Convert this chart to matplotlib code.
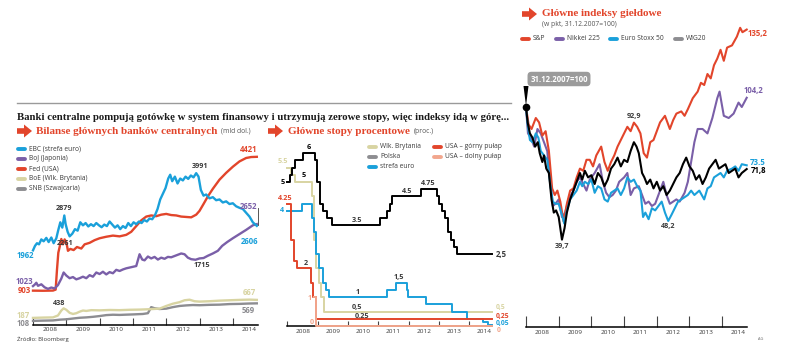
import matplotlib
matplotlib.use('Agg')
import matplotlib.pyplot as plt
from matplotlib.patches import Polygon

W, H = 788, 360
SANS = ['Open Sans', 'DejaVu Sans']
SERIF = ['Liberation Serif', 'DejaVu Serif']

RED = '#e2452b'
BLUE = '#1aa0da'
PURPLE = '#7a5fa8'
BEIGE = '#d8d4a2'
GRAY = '#8d8d91'
SALMON = '#f2a68d'
DARK = '#3a3a3a'

years = [2008, 2009, 2010, 2011, 2012, 2013, 2014]
year_labels = [str(y) for y in years]

# --- Bilanse banków centralnych (mld dol.) ---
ebc = [(2008.00, 1962), (2008.06, 2080), (2008.12, 2150), (2008.18, 2120), (2008.25, 2250),
       (2008.32, 2200), (2008.40, 2290), (2008.47, 2180), (2008.55, 2300), (2008.62, 2150),
       (2008.70, 2280), (2008.76, 2500), (2008.82, 2700), (2008.88, 2560), (2008.94, 2879),
       (2008.98, 2650), (2009.04, 2450), (2009.10, 2330), (2009.18, 2400), (2009.26, 2520),
       (2009.34, 2480), (2009.42, 2700), (2009.50, 2620), (2009.58, 2680), (2009.66, 2590),
       (2009.74, 2650), (2009.82, 2600), (2009.90, 2680), (2009.98, 2620), (2010.06, 2570),
       (2010.14, 2640), (2010.22, 2600), (2010.30, 2720), (2010.38, 2640), (2010.46, 2560),
       (2010.54, 2620), (2010.62, 2520), (2010.70, 2600), (2010.78, 2550), (2010.86, 2680),
       (2010.94, 2600), (2011.02, 2700), (2011.10, 2650), (2011.18, 2720), (2011.26, 2680),
       (2011.34, 2760), (2011.42, 2720), (2011.50, 2800), (2011.58, 2780), (2011.66, 2880),
       (2011.74, 3050), (2011.82, 3300), (2011.90, 3450), (2011.98, 3600), (2012.06, 3850),
       (2012.12, 3950), (2012.18, 3780), (2012.26, 3900), (2012.34, 3720), (2012.42, 3850),
       (2012.50, 3800), (2012.58, 3900), (2012.66, 3840), (2012.74, 3930), (2012.82, 3880),
       (2012.90, 3991), (2012.97, 3900), (2013.04, 3550), (2013.12, 3400), (2013.20, 3430),
       (2013.30, 3330), (2013.40, 3360), (2013.50, 3280), (2013.60, 3300), (2013.70, 3220),
       (2013.80, 3250), (2013.90, 3180), (2014.00, 3200), (2014.10, 3120), (2014.20, 3080),
       (2014.30, 3050), (2014.40, 2950), (2014.50, 2850), (2014.60, 2700), (2014.72, 2606)]
boj = [(2008.00, 1023), (2008.05, 1060), (2008.10, 1110), (2008.15, 1030), (2008.25, 1070),
       (2008.35, 990), (2008.45, 950), (2008.55, 985), (2008.65, 960), (2008.75, 1050),
       (2008.85, 1220), (2008.92, 1380), (2009.00, 1300), (2009.10, 1230), (2009.20, 1260),
       (2009.30, 1200), (2009.40, 1230), (2009.50, 1270), (2009.60, 1230), (2009.70, 1310),
       (2009.80, 1270), (2009.90, 1380), (2010.00, 1340), (2010.10, 1400), (2010.20, 1330),
       (2010.30, 1390), (2010.40, 1360), (2010.50, 1450), (2010.60, 1420), (2010.70, 1460),
       (2010.80, 1490), (2010.90, 1510), (2011.00, 1530), (2011.10, 1550), (2011.20, 1860),
       (2011.28, 1720), (2011.35, 1700), (2011.45, 1800), (2011.55, 1750), (2011.65, 1790),
       (2011.75, 1720), (2011.85, 1770), (2011.95, 1740), (2012.05, 1790), (2012.15, 1780),
       (2012.30, 1830), (2012.45, 1880), (2012.55, 1860), (2012.65, 1770), (2012.75, 1730),
       (2012.88, 1715), (2013.00, 1750), (2013.12, 1760), (2013.25, 1820), (2013.40, 1880),
       (2013.55, 1950), (2013.68, 2080), (2013.83, 2180), (2014.00, 2280), (2014.20, 2390),
       (2014.40, 2500), (2014.60, 2620), (2014.72, 2652)]
fed = [(2008.00, 903), (2008.30, 900), (2008.60, 905), (2008.68, 930), (2008.72, 1450),
       (2008.76, 1900), (2008.80, 2050), (2008.85, 2261), (2008.90, 2120), (2008.95, 2250),
       (2009.00, 2180), (2009.05, 1950), (2009.12, 2000), (2009.22, 1970), (2009.32, 2050),
       (2009.45, 2010), (2009.55, 2120), (2009.70, 2160), (2009.85, 2230), (2010.00, 2280),
       (2010.20, 2320), (2010.40, 2350), (2010.60, 2330), (2010.80, 2370), (2010.95, 2450),
       (2011.10, 2600), (2011.25, 2750), (2011.40, 2850), (2011.55, 2880), (2011.70, 2860),
       (2011.85, 2900), (2012.00, 2920), (2012.15, 2890), (2012.30, 2880), (2012.45, 2850),
       (2012.60, 2840), (2012.75, 2830), (2012.90, 2900), (2013.00, 3000), (2013.12, 3180),
       (2013.25, 3380), (2013.40, 3580), (2013.60, 3820), (2013.80, 4000), (2014.00, 4160),
       (2014.20, 4300), (2014.40, 4390), (2014.55, 4415), (2014.72, 4421)]
boe = [(2008.00, 187), (2008.30, 195), (2008.60, 200), (2008.75, 250), (2008.85, 380),
       (2008.92, 438), (2009.00, 400), (2009.10, 320), (2009.20, 290), (2009.30, 310),
       (2009.40, 350), (2009.50, 380), (2009.60, 370), (2009.75, 390), (2010.00, 385),
       (2010.30, 395), (2010.60, 390), (2010.90, 400), (2011.20, 405), (2011.50, 415),
       (2011.80, 430), (2012.00, 500), (2012.20, 560), (2012.40, 600), (2012.55, 650),
       (2012.70, 665), (2012.85, 625), (2013.00, 615), (2013.30, 625), (2013.60, 640),
       (2013.90, 650), (2014.20, 660), (2014.50, 667), (2014.72, 660)]
snb = [(2008.00, 108), (2008.30, 115), (2008.60, 120), (2008.80, 140), (2009.00, 150),
       (2009.20, 170), (2009.40, 190), (2009.60, 200), (2009.80, 215), (2010.00, 235),
       (2010.20, 260), (2010.40, 270), (2010.60, 265), (2010.80, 272), (2011.00, 278),
       (2011.30, 290), (2011.45, 310), (2011.55, 470), (2011.65, 440), (2011.80, 420),
       (2012.00, 430), (2012.20, 470), (2012.40, 500), (2012.60, 515), (2012.80, 525),
       (2013.00, 520), (2013.30, 530), (2013.60, 535), (2013.90, 550), (2014.20, 555),
       (2014.50, 565), (2014.72, 569)]
bank_names = ['EBC (strefa euro)', 'BoJ (Japonia)', 'Fed (USA)', 'BoE (Wlk. Brytania)', 'SNB (Szwajcaria)']

# --- Główne stopy procentowe (proc.), stopy od danej daty ---
uk_rate = [(2008.00, 5.5), (2008.12, 5.25), (2008.25, 5.0), (2008.80, 4.5), (2008.86, 3.0),
           (2008.95, 2.0), (2009.03, 1.5), (2009.12, 1.0), (2009.20, 0.5), (2014.75, 0.5)]
pl_rate = [(2008.00, 5.0), (2008.08, 5.25), (2008.16, 5.5), (2008.24, 5.75), (2008.50, 6.0),
           (2008.90, 5.75), (2008.97, 5.0), (2009.08, 4.25), (2009.18, 4.0), (2009.30, 3.75),
           (2009.48, 3.5), (2011.04, 3.75), (2011.30, 4.0), (2011.38, 4.25), (2011.45, 4.5),
           (2012.42, 4.75), (2012.92, 4.5), (2013.00, 4.25), (2013.10, 4.0), (2013.20, 3.75),
           (2013.30, 3.25), (2013.40, 3.0), (2013.50, 2.75), (2013.60, 2.5), (2014.75, 2.5)]
eu_rate = [(2008.00, 4.0), (2008.48, 4.25), (2008.80, 3.75), (2008.87, 3.25), (2008.93, 2.5),
           (2009.03, 2.0), (2009.18, 1.5), (2009.27, 1.25), (2009.38, 1.0), (2011.30, 1.25),
           (2011.57, 1.5), (2011.93, 1.25), (2011.98, 1.0), (2012.56, 0.75), (2013.42, 0.5),
           (2013.92, 0.25), (2014.45, 0.15), (2014.62, 0.05), (2014.75, 0.05)]
us_upper = [(2008.00, 4.25), (2008.10, 3.5), (2008.13, 3.0), (2008.20, 2.25), (2008.30, 2.0),
            (2008.78, 1.5), (2008.84, 1.0), (2008.95, 0.25), (2014.75, 0.25)]
us_lower = [(2008.86, 1.0), (2008.95, 0.0), (2014.75, 0.0)]
rate_names = ['Wlk. Brytania', 'Polska', 'strefa euro', 'USA – górny pułap', 'USA – dolny pułap']

# --- Główne indeksy giełdowe (31.12.2007 = 100) ---
sp = [(2008.00, 100), (2008.08, 92), (2008.17, 90), (2008.30, 95), (2008.40, 93), (2008.50, 87),
      (2008.60, 89), (2008.70, 80), (2008.80, 63), (2008.88, 60), (2008.96, 62), (2009.05, 57),
      (2009.15, 48), (2009.25, 56), (2009.35, 62), (2009.45, 63), (2009.55, 68), (2009.65, 72),
      (2009.75, 71), (2009.85, 76), (2009.95, 76), (2010.05, 73), (2010.15, 78), (2010.30, 82),
      (2010.40, 75), (2010.50, 71), (2010.60, 75), (2010.70, 78), (2010.80, 82), (2010.90, 85),
      (2011.00, 88), (2011.10, 91), (2011.20, 89), (2011.30, 92.9), (2011.40, 91), (2011.50, 88),
      (2011.60, 79), (2011.70, 77), (2011.80, 84), (2011.90, 85), (2012.00, 89), (2012.10, 93),
      (2012.25, 96), (2012.40, 90), (2012.50, 94), (2012.60, 97), (2012.75, 98), (2012.85, 96),
      (2012.95, 99), (2013.10, 104), (2013.25, 107), (2013.35, 111), (2013.45, 110), (2013.55, 115),
      (2013.65, 113), (2013.75, 119), (2013.85, 122), (2013.95, 126), (2014.05, 121), (2014.15, 127),
      (2014.30, 128), (2014.45, 132), (2014.55, 136), (2014.62, 134), (2014.75, 135.2)]
nikkei = [(2008.00, 100), (2008.06, 88), (2008.15, 86), (2008.25, 82), (2008.35, 90), (2008.45, 88),
          (2008.55, 84), (2008.65, 80), (2008.75, 65), (2008.82, 55), (2008.90, 56), (2009.00, 58),
          (2009.10, 50), (2009.20, 52), (2009.30, 58), (2009.45, 62), (2009.55, 66), (2009.65, 68),
          (2009.75, 65), (2009.85, 62), (2009.95, 67), (2010.10, 70), (2010.25, 74), (2010.35, 66),
          (2010.45, 61), (2010.55, 59), (2010.65, 60), (2010.75, 62), (2010.85, 66), (2011.00, 68),
          (2011.10, 70), (2011.20, 60), (2011.30, 63), (2011.45, 64), (2011.55, 60), (2011.65, 56),
          (2011.75, 57), (2011.85, 55), (2011.95, 56), (2012.10, 62), (2012.20, 66), (2012.30, 60),
          (2012.40, 56), (2012.50, 57), (2012.60, 58), (2012.70, 57), (2012.85, 61), (2012.95, 66),
          (2013.05, 75), (2013.15, 84), (2013.25, 90), (2013.40, 90), (2013.55, 88), (2013.70, 95),
          (2013.85, 104), (2013.92, 107), (2014.05, 96), (2014.20, 95), (2014.35, 97), (2014.50, 102),
          (2014.60, 100), (2014.75, 104.2)]
stoxx = [(2008.00, 100), (2008.05, 92), (2008.12, 85), (2008.20, 84), (2008.30, 88), (2008.38, 86),
         (2008.45, 80), (2008.55, 78), (2008.65, 76), (2008.75, 64), (2008.82, 57), (2008.90, 56),
         (2009.00, 56), (2009.08, 52), (2009.17, 47), (2009.25, 53), (2009.35, 58), (2009.45, 60),
         (2009.55, 62), (2009.65, 66), (2009.72, 64), (2009.80, 66), (2009.90, 65), (2010.00, 67),
         (2010.10, 61), (2010.20, 64), (2010.30, 63), (2010.40, 58), (2010.50, 57), (2010.60, 61),
         (2010.70, 62), (2010.80, 63), (2010.90, 60), (2011.00, 63), (2011.10, 68), (2011.20, 66),
         (2011.30, 67), (2011.40, 64), (2011.50, 62), (2011.58, 50), (2011.65, 52), (2011.75, 49),
         (2011.85, 54), (2011.95, 53), (2012.05, 55), (2012.15, 57), (2012.25, 52), (2012.35, 48.2),
         (2012.45, 51), (2012.55, 54), (2012.65, 57), (2012.75, 58), (2012.85, 59), (2012.95, 60),
         (2013.05, 62), (2013.15, 60), (2013.30, 62), (2013.45, 58), (2013.55, 63), (2013.65, 64),
         (2013.75, 68), (2013.85, 69), (2013.95, 70), (2014.05, 68), (2014.15, 71), (2014.30, 72),
         (2014.40, 73), (2014.50, 71), (2014.60, 74), (2014.75, 73.5)]
wig20 = [(2008.00, 100), (2008.05, 93), (2008.12, 88), (2008.20, 86), (2008.28, 82), (2008.36, 84),
         (2008.42, 79), (2008.50, 75), (2008.55, 78), (2008.62, 72), (2008.70, 70), (2008.78, 58),
         (2008.85, 52), (2008.92, 53), (2009.00, 50), (2009.10, 39.7), (2009.18, 45), (2009.25, 52),
         (2009.35, 58), (2009.45, 62), (2009.55, 66), (2009.65, 70), (2009.72, 67), (2009.80, 71),
         (2009.90, 68), (2010.00, 69), (2010.10, 65), (2010.20, 70), (2010.30, 68), (2010.40, 64),
         (2010.50, 67), (2010.60, 72), (2010.70, 74), (2010.80, 77), (2010.90, 73), (2011.00, 76),
         (2011.10, 75), (2011.20, 80), (2011.30, 84), (2011.38, 82), (2011.45, 79), (2011.55, 70),
         (2011.62, 68), (2011.70, 65), (2011.80, 67), (2011.90, 63), (2012.00, 66), (2012.10, 62),
         (2012.20, 64), (2012.30, 60), (2012.40, 62), (2012.50, 65), (2012.60, 68), (2012.70, 70),
         (2012.80, 74), (2012.90, 77), (2013.00, 73), (2013.10, 71), (2013.20, 67), (2013.30, 69),
         (2013.40, 65), (2013.50, 68), (2013.60, 72), (2013.70, 74), (2013.80, 76), (2013.90, 72),
         (2014.00, 73), (2014.10, 74), (2014.20, 70), (2014.30, 71), (2014.40, 72), (2014.50, 68),
         (2014.60, 70), (2014.75, 71.8)]
index_names = ['S&P', 'Nikkei 225', 'Euro Stoxx 50', 'WIG20']


def xy(series):
    return [p[0] for p in series], [p[1] for p in series]


fig = plt.figure(figsize=(W / 100, H / 100), dpi=100)
ov = fig.add_axes([0, 0, 1, 1])
ov.set_xlim(0, W)
ov.set_ylim(H, 0)
ov.axis('off')


def px_axes(x0, x1, y_top, y_bot):
    ax = fig.add_axes([x0 / W, 1 - y_bot / H, (x1 - x0) / W, (y_bot - y_top) / H])
    ax.patch.set_visible(False)
    for s in ['left', 'right', 'top']:
        ax.spines[s].set_visible(False)
    ax.spines['bottom'].set_linewidth(1.1)
    ax.yaxis.set_visible(False)
    ax.set_xlim(2008, 2014.75)
    return ax


def year_axis(ax, tick_len, pad):
    ax.set_xticks(years)
    ax.tick_params(axis='x', which='major', direction='in', length=tick_len, width=0.8,
                   color='#444444', labelbottom=False)
    ax.set_xticks([y + 0.5 for y in years], labels=year_labels, minor=True)
    ax.tick_params(axis='x', which='minor', length=0, labelsize=4.6, pad=pad, labelcolor=DARK)
    for lab in ax.get_xticklabels(minor=True):
        lab.set_family(SANS)


def arrow(x0, cy):
    pts = [(x0, cy - 2.8), (x0 + 7, cy - 2.8), (x0 + 7, cy - 6.5), (x0 + 15, cy),
           (x0 + 7, cy + 6.5), (x0 + 7, cy + 2.8), (x0, cy + 2.8)]
    ov.add_patch(Polygon(pts, closed=True, fc=RED, ec='none'))


def legend_item(x, y, color, text):
    ov.plot([x + 1.5, x + 8.5], [y, y], color=color, lw=2.8, solid_capstyle='round')
    ov.text(x + 12, y, text, fontsize=4.8, family=SANS, color=DARK, va='center', ha='left')


def label(ax, x, y, text, color, dx=0, dy=0, ha='center', size=5.2):
    ax.annotate(text, xy=(x, y), xytext=(dx * 0.72, dy * 0.72), textcoords='offset points',
                ha=ha, va='center', fontsize=size, family=SANS, fontweight='bold',
                color=color, annotation_clip=False)


# ---- headers ----
ov.plot([17, 511], [103, 103], color='#9a9a9a', lw=1.0)
ov.text(17, 117, 'Banki centralne pompują gotówkę w system finansowy i utrzymują zerowe stopy, '
        'więc indeksy idą w górę...', fontsize=7.75, family=SERIF, fontweight='bold',
        color='#1a1a1a', va='center', ha='left')

arrow(17, 131)
ov.text(36, 131, 'Bilanse głównych banków centralnych', fontsize=8.0, family=SERIF,
        fontweight='bold', color=RED, va='center', ha='left')
ov.text(221, 131.5, '(mld dol.)', fontsize=4.9, family=SANS, color='#555555', va='center', ha='left')

arrow(268, 131)
ov.text(288, 131, 'Główne stopy procentowe', fontsize=8.0, family=SERIF,
        fontweight='bold', color=RED, va='center', ha='left')
ov.text(414, 131.5, '(proc.)', fontsize=4.9, family=SANS, color='#555555', va='center', ha='left')

arrow(522, 14)
ov.text(542, 14, 'Główne indeksy giełdowe', fontsize=8.0, family=SERIF,
        fontweight='bold', color=RED, va='center', ha='left')
ov.text(542, 24.5, '(w pkt, 31.12.2007=100)', fontsize=4.9, family=SANS, color='#555555',
        va='center', ha='left')

ov.text(17, 339, 'Źródło: Bloomberg', fontsize=4.2, family=SANS, color=DARK, va='center', ha='left')
ov.text(758, 339, 'AG', fontsize=2.8, family=SANS, color='#666666', va='center', ha='left')

# ---- panel 1: balance sheets ----
ax1 = px_axes(33, 257.8, 150, 325)
ax1.set_ylim(0, 4600)
year_axis(ax1, 5, 1.6)
bank_series = [ebc, boj, fed, boe, snb]
bank_colors = [BLUE, PURPLE, RED, BEIGE, GRAY]
for s, c in zip(reversed(bank_series), reversed(bank_colors)):
    tx, vy = xy(s)
    ax1.plot(tx, vy, color=c, lw=1.7, solid_joinstyle='round', clip_on=False)
for i, (name, c) in enumerate(zip(bank_names, bank_colors)):
    legend_item(17, 149 + i * 10, c, name)

end1 = ebc[-1][0]
ax1.plot([end1 + 0.03, end1 + 0.03], [boj[-1][1] - 20, boj[-1][1] + 430], color=DARK, lw=0.6,
         clip_on=False)
label(ax1, fed[-1][0], fed[-1][1], '4421', RED, dx=-8, dy=7, size=5.6)
label(ax1, 2012.90, 3991, '3991', DARK, dx=4, dy=7)
label(ax1, 2008.94, 2879, '2879', DARK, dx=0, dy=7)
label(ax1, boj[-1][0], boj[-1][1], '2652', PURPLE, dx=-8, dy=18, size=5.6)
label(ax1, ebc[-1][0], ebc[-1][1], '2606', BLUE, dx=-7, dy=-16, size=5.6)
label(ax1, 2008.85, 2261, '2261', DARK, dx=4, dy=-5)
label(ax1, 2008.0, 1962, '1962', BLUE, dx=-8, dy=-5, size=5.6)
label(ax1, 2012.95, 1715, '1715', DARK, dx=4, dy=-6)
label(ax1, 2008.0, 1023, '1023', PURPLE, dx=-9, dy=5, size=5.6)
label(ax1, 2008.0, 903, '903', RED, dx=-9, dy=0, size=5.6)
label(ax1, 2008.92, 438, '438', DARK, dx=-5, dy=5)
label(ax1, boe[-1][0], boe[-1][1], '667', BEIGE, dx=-7, dy=7, size=5.6)
label(ax1, 2008.0, 187, '187', BEIGE, dx=-10, dy=2, size=5.6)
label(ax1, snb[-1][0], snb[-1][1], '569', GRAY, dx=-9, dy=-7, size=5.6)
label(ax1, 2008.0, 108, '108', GRAY, dx=-10, dy=-3, size=5.6)

# ---- panel 2: interest rates ----
ax2 = px_axes(287.5, 492, 138.8, 326)
ax2.set_ylim(0, 6.5)
year_axis(ax2, 3.5, 2.0)
rate_series = [uk_rate, pl_rate, eu_rate, us_upper, us_lower]
rate_colors = [BEIGE, 'black', BLUE, RED, SALMON]
legend_colors = [BEIGE, GRAY, BLUE, RED, SALMON]
for s, c, z in zip(rate_series, rate_colors, [2, 3, 4, 5, 6]):
    tx, vy = xy(s)
    ax2.plot(tx, vy, color=c, lw=1.4, drawstyle='steps-post', zorder=z, clip_on=False)
legend_pos = [(368, 147), (368, 157), (368, 167), (433, 147), (433, 157)]
for (lx, ly), name, c in zip(legend_pos, rate_names, legend_colors):
    legend_item(lx, ly, c, name)

label(ax2, 2008.70, 6.0, '6', 'black', dy=6)
label(ax2, 2008.0, 5.5, '5.5', BEIGE, dx=-5, dy=6)
label(ax2, 2008.0, 5.0, '5', 'black', dx=-5, dy=-1)
label(ax2, 2008.55, 5.0, '5', 'black', dx=0, dy=6)
label(ax2, 2008.0, 4.25, '4.25', RED, dx=-2, dy=5)
label(ax2, 2008.0, 4.0, '4', BLUE, dx=-5, dy=0)
label(ax2, 2010.30, 3.5, '3.5', DARK, dy=4.5)
label(ax2, 2011.95, 4.5, '4.5', DARK, dy=4.5)
label(ax2, 2012.65, 4.75, '4.75', DARK, dy=6)
label(ax2, pl_rate[-1][0], 2.5, '2,5', DARK, dx=4, ha='left', size=5.6)
label(ax2, 2008.60, 2.0, '2', DARK, dy=5)
label(ax2, 2008.86, 1.0, '1', SALMON, dx=-4, dy=-1)
label(ax2, 2008.95, 0.0, '0', SALMON, dx=-4, dy=3)
label(ax2, 2011.75, 1.5, '1,5', DARK, dx=-2, dy=5)
label(ax2, 2010.30, 1.0, '1', DARK, dy=5)
label(ax2, 2010.30, 0.5, '0,5', DARK, dy=4.5)
label(ax2, 2010.45, 0.25, '0,25', DARK, dy=2.5)
label(ax2, uk_rate[-1][0], 0.5, '0,5', BEIGE, dx=4, dy=4.5, ha='left', size=4.9)
label(ax2, us_upper[-1][0], 0.25, '0,25', RED, dx=4, dy=2.5, ha='left', size=4.9)
label(ax2, eu_rate[-1][0], 0.05, '0,05', BLUE, dx=4, dy=1, ha='left', size=4.9)
label(ax2, us_lower[-1][0], 0.0, '0', SALMON, dx=5, dy=-4.5, ha='left', size=4.9)

# ---- panel 3: stock indices ----
ax3 = px_axes(526, 746.7, 19, 327)
ax3.set_ylim(0, 140)
year_axis(ax3, 8, 2.0)
idx_series = [sp, nikkei, stoxx, wig20]
idx_colors = [RED, PURPLE, BLUE, 'black']
idx_legend = [RED, PURPLE, BLUE, GRAY]
for s, c, z in zip(idx_series, idx_colors, [3, 2, 4, 5]):
    tx, vy = xy(s)
    ax3.plot(tx, vy, color=c, lw=1.5, zorder=z, clip_on=False)
for lx, name, c in zip([521, 555, 609, 674], index_names, idx_legend):
    legend_item(lx, 39, c, name)

ax3.plot([2008.0], [100], 'o', color='black', ms=4.5, zorder=8, clip_on=False)
ov.add_patch(Polygon([(523.5, 86), (528.5, 86), (526, 106)], closed=True, fc='black', ec='none',
                     zorder=9))
ax3.annotate('31.12.2007=100', xy=(2008.0, 100), xytext=(33 * 0.72, 28 * 0.72),
             textcoords='offset points', ha='center', va='center', fontsize=5.6,
             family=SANS, fontweight='bold', color='white', annotation_clip=False,
             bbox=dict(boxstyle='round,pad=0.35,rounding_size=0.5', fc='#9b9b9b', ec='none'))

label(ax3, 2011.30, 92.9, '92,9', DARK, dy=6)
label(ax3, 2009.10, 39.7, '39,7', DARK, dy=-7)
label(ax3, 2012.35, 48.2, '48,2', DARK, dy=-6)
label(ax3, sp[-1][0], sp[-1][1], '135,2', RED, dx=1, dy=-4, ha='left', size=5.6)
label(ax3, nikkei[-1][0], nikkei[-1][1], '104,2', PURPLE, dx=-3, dy=7, ha='left', size=5.6)
label(ax3, stoxx[-1][0], stoxx[-1][1], '73.5', BLUE, dx=3, dy=3, ha='left', size=5.6)
label(ax3, wig20[-1][0], wig20[-1][1], '71,8', 'black', dx=4, dy=-1.5, ha='left', size=5.6)

fig.savefig('out.png', dpi=100)
